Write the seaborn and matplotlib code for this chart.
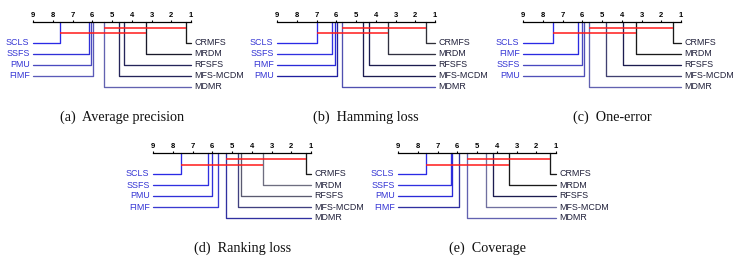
import numpy as np
import pandas as pd
import matplotlib
matplotlib.use("Agg")
import matplotlib.pyplot as plt
import seaborn as sns

# 1. Data: average ranks
methods = ['CRMFS', 'MRDM', 'RFSFS', 'MFS-MCDM', 'MDMR', 'FIMF', 'PMU', 'SSFS', 'SCLS']

ranks_ap = [1.27, 3.29, 4.39, 4.65, 5.41, 5.98, 6.08, 6.15, 7.62]   # average precision
ranks_hl = [1.45, 3.39, 4.35, 4.66, 5.70, 6.05, 5.95, 6.22, 6.98]   # hamming loss
ranks_oe = [1.41, 3.27, 3.96, 4.81, 5.64, 6.21, 5.91, 6.01, 7.47]   # one-error
ranks_rl = [1.27, 3.45, 4.54, 4.70, 5.32, 5.73, 6.00, 6.24, 7.58]   # ranking loss
ranks_cv = [1.29, 3.36, 4.17, 4.56, 5.49, 5.90, 6.27, 6.32, 7.59]   # coverage

# groups with no significant difference (red bars), given by their end methods
cliques = [('CRMFS', 'MDMR'), ('MRDM', 'SCLS')]

captions = ['(a)  Average precision', '(b)  Hamming loss', '(c)  One-error',
            '(d)  Ranking loss', '(e)  Coverage']

# line colours per panel (roughly as in the reference)
colors_ap = {'CRMFS': '#1a1a1a', 'MRDM': '#1a1a2a', 'RFSFS': '#25255a', 'MFS-MCDM': '#25255a',
             'MDMR': '#6262b0', 'FIMF': '#5a5ab8', 'PMU': '#4a4ac0', 'SSFS': '#3030d8', 'SCLS': '#2a2ae6'}
colors_hl = {'CRMFS': '#303038', 'MRDM': '#303040', 'RFSFS': '#1c1c50', 'MFS-MCDM': '#1c1c50',
             'MDMR': '#5050b0', 'FIMF': '#2a2ad8', 'PMU': '#2020a0', 'SSFS': '#3030e0', 'SCLS': '#2a2ae6'}
colors_oe = {'CRMFS': '#1a1a1a', 'MRDM': '#1a1a1a', 'RFSFS': '#1c1c50', 'MFS-MCDM': '#404070',
             'MDMR': '#6262b0', 'FIMF': '#2a2ae0', 'PMU': '#5050b8', 'SSFS': '#4848c0', 'SCLS': '#2a2ae6'}
colors_rl = {'CRMFS': '#1a1a1a', 'MRDM': '#6e6e80', 'RFSFS': '#5a5a70', 'MFS-MCDM': '#404080',
             'MDMR': '#3030a0', 'FIMF': '#3a3ad0', 'PMU': '#3030d8', 'SSFS': '#3030e0', 'SCLS': '#2a2ae6'}
colors_cv = {'CRMFS': '#1a1a1a', 'MRDM': '#1a1a1a', 'RFSFS': '#1c1c50', 'MFS-MCDM': '#7070a0',
             'MDMR': '#6262b0', 'FIMF': '#3030a0', 'PMU': '#2a2ad8', 'SSFS': '#3030e0', 'SCLS': '#2a2ae6'}

panels = [(ranks_ap, colors_ap), (ranks_hl, colors_hl), (ranks_oe, colors_oe),
          (ranks_rl, colors_rl), (ranks_cv, colors_cv)]

# 2. Layout (pixels of a 741x264 canvas): left edge and top of each rank axis
W, H = 741, 264
ax_pos = [(33, 22), (277, 22), (523, 22), (153, 153), (398, 153)]
ax_w, ax_h = 158, 66
row0, row_step = 21, 11
bar_y = [6, 11.5]

sns.set_theme(style="white")
plt.rcParams['font.family'] = ['Liberation Sans', 'DejaVu Sans']

fig = plt.figure(figsize=(W / 100, H / 100), dpi=100)

for (ranks, cols), (px, py), cap in zip(panels, ax_pos, captions):
    ax = fig.add_axes([px / W, 1 - (py + ax_h) / H, ax_w / W, ax_h / H])
    r = pd.Series(ranks, index=methods)
    order = r.sort_values()
    right = list(order.index[:5])            # best on the right, top to bottom
    left = list(order.index[5:][::-1])       # worst on the left, top to bottom

    rows = []
    for k, m in enumerate(right):
        y = row0 + k * row_step
        rows += [(m, r[m], 0), (m, r[m], y), (m, 1, y)]
    for k, m in enumerate(left):
        y = row0 + k * row_step
        rows += [(m, r[m], 0), (m, r[m], y), (m, 9, y)]
    df = pd.DataFrame(rows, columns=['method', 'rank', 'y'])

    sns.lineplot(data=df, x='rank', y='y', hue='method', units='method',
                 estimator=None, sort=False, palette=cols, legend=False,
                 lw=0.95, ax=ax, clip_on=False)

    for k, m in enumerate(right):
        ax.annotate(m, (1, row0 + k * row_step), xytext=(2.5, 0), textcoords='offset points',
                    ha='left', va='center', fontsize=6.4, color='#20203a')
    for k, m in enumerate(left):
        ax.annotate(m, (9, row0 + k * row_step), xytext=(-2.5, 0), textcoords='offset points',
                    ha='right', va='center', fontsize=6.4, color='#3434d4')

    # red bars linking methods that are not significantly different
    for (a, b), yb in zip(cliques, bar_y):
        ax.hlines(yb, min(r[a], r[b]), max(r[a], r[b]), color='#ff1a1a', lw=1.1, zorder=5)

    ax.set_xlim(9, 1)
    ax.set_ylim(ax_h, 0)
    ax.xaxis.tick_top()
    ax.set_xticks(range(1, 10))
    ax.tick_params(axis='x', direction='out', length=1.8, width=0.8, pad=0.6,
                   labelsize=5.5, colors='black', top=True, bottom=False)
    for t in ax.get_xticklabels():
        t.set_fontweight('bold')
    ax.set_yticks([])
    ax.set_xlabel('')
    ax.set_ylabel('')
    for s in ['left', 'right', 'bottom']:
        ax.spines[s].set_visible(False)
    ax.spines['top'].set_color('black')
    ax.spines['top'].set_linewidth(0.9)
    ax.patch.set_alpha(0)

    ax.annotate(cap, (0.565, 1), xycoords='axes fraction', xytext=(0, -68.5),
                textcoords='offset points', ha='center', va='center',
                fontsize=10.2, family='Liberation Serif', color='#111111')

fig.savefig('out.png', dpi=100)
